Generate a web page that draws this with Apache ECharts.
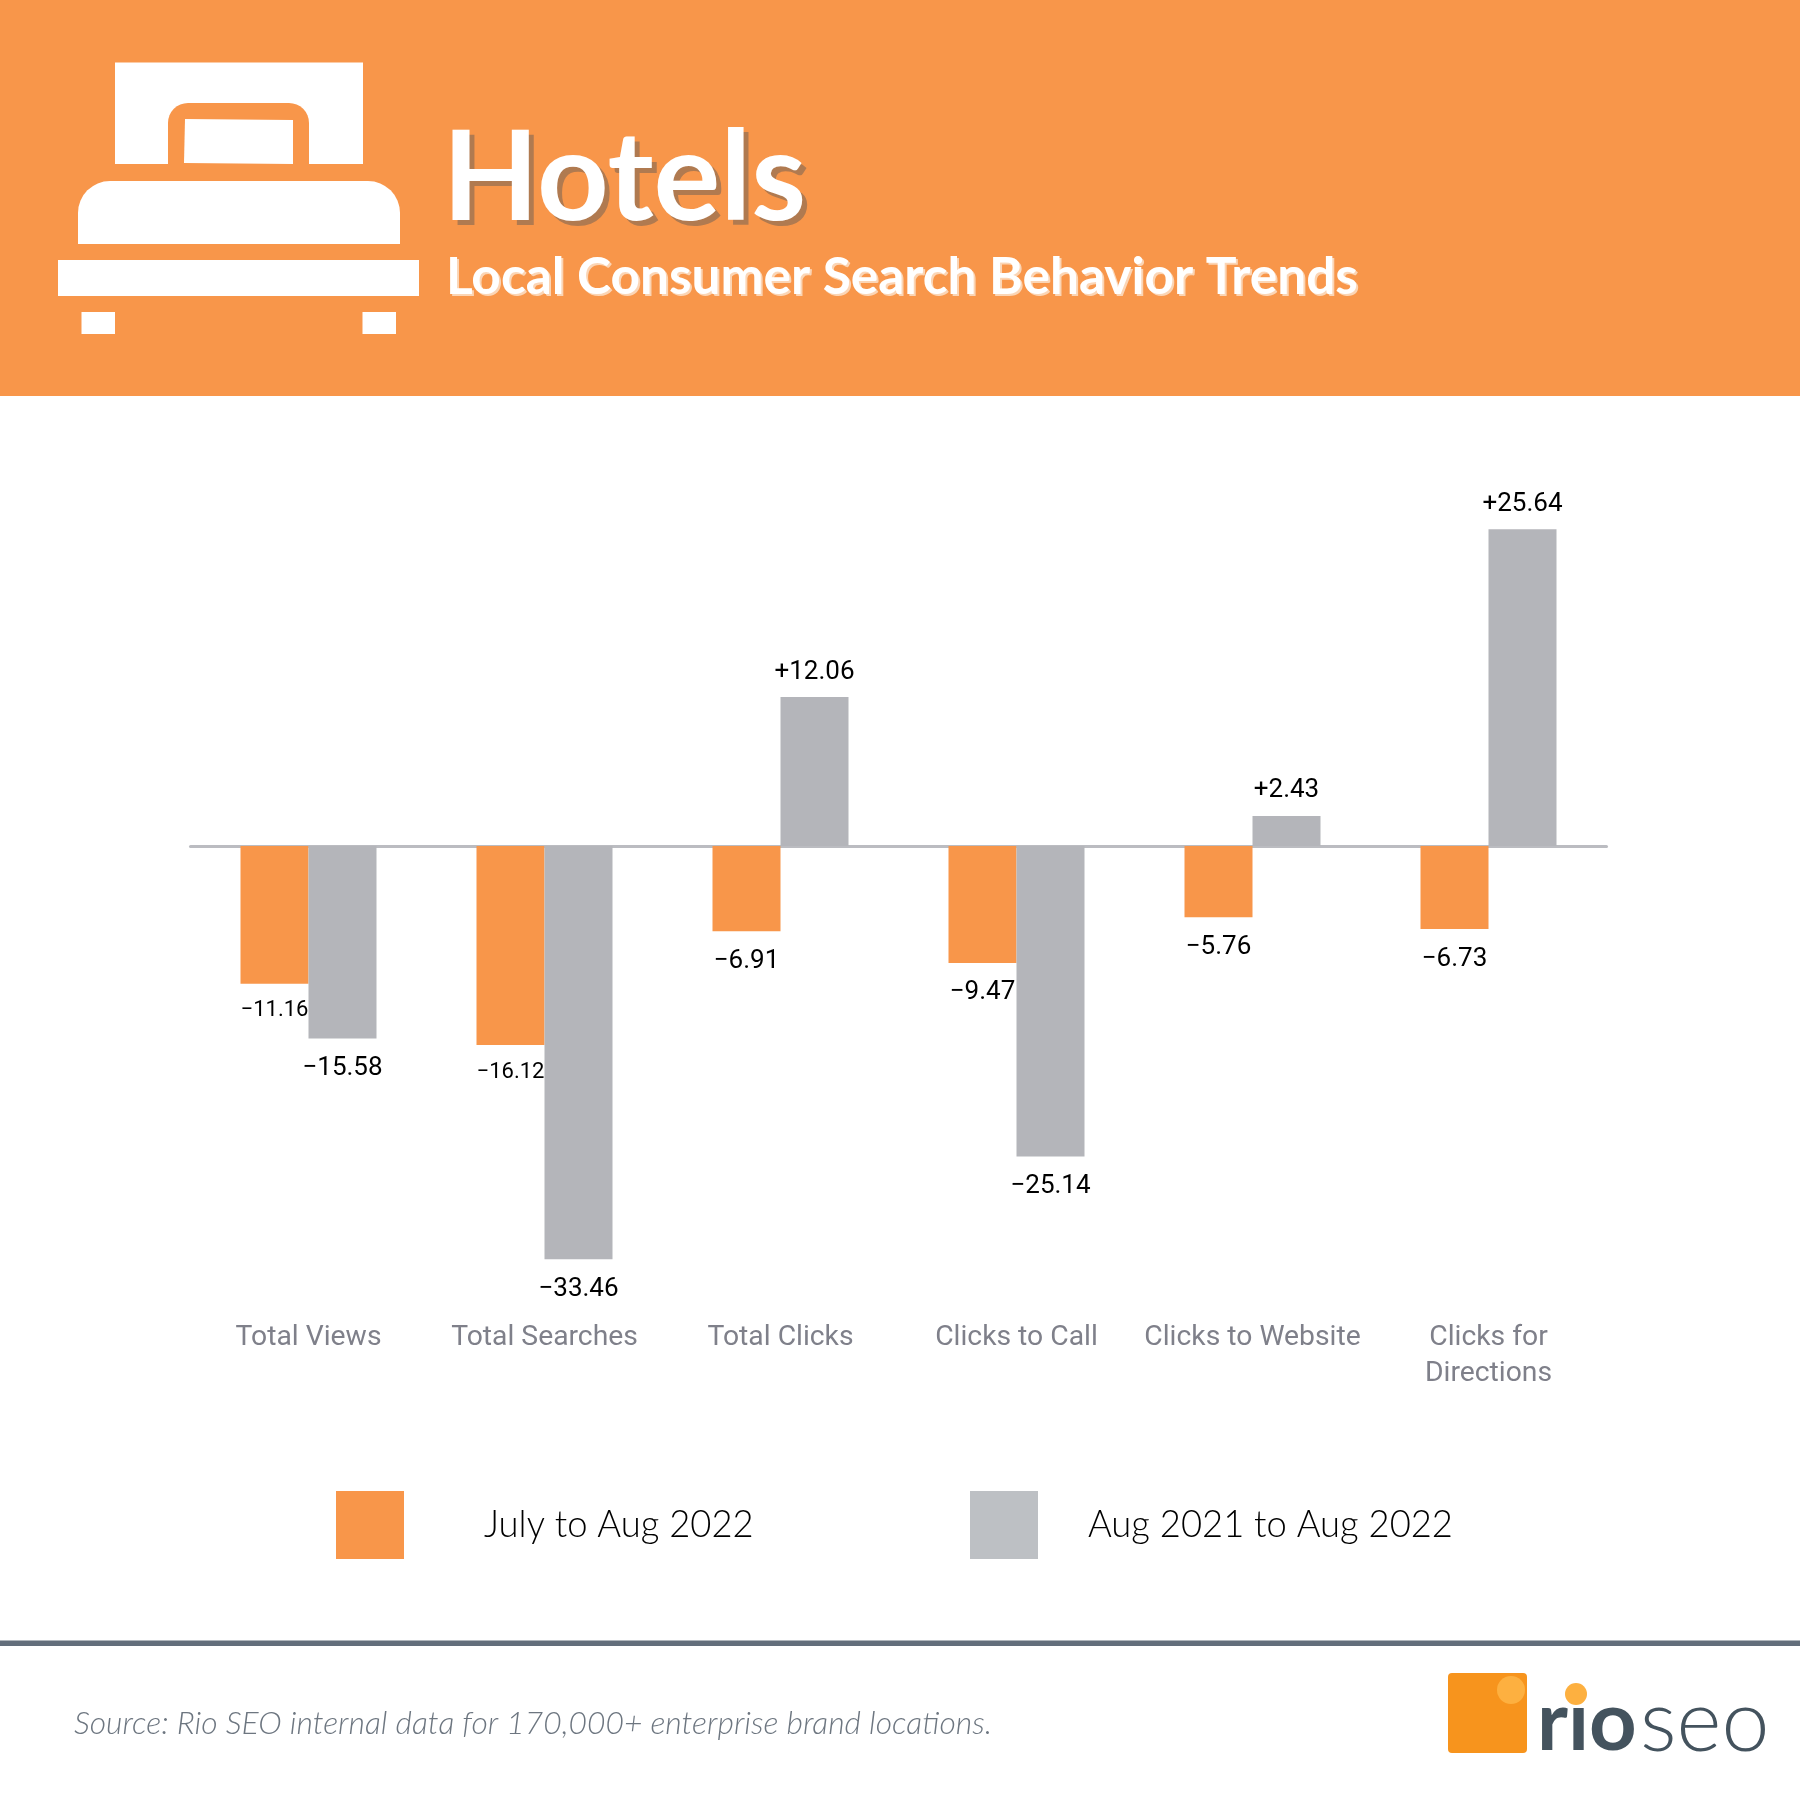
<!DOCTYPE html>
<html>
<head>
<meta charset="utf-8">
<title>Hotels</title>
<script src="https://cdn.jsdelivr.net/npm/echarts@6/dist/echarts.min.js"></script>
<style>
  html, body { margin: 0; padding: 0; background: #fff; }
  #main { width: 1800px; height: 1800px; }
</style>
</head>
<body>
<div id="main"></div>
<script>
var categories = ['Total Views', 'Total Searches', 'Total Clicks', 'Clicks to Call', 'Clicks to Website', 'Clicks for\nDirections'];
var monthly = [-11.16, -16.12, -6.91, -9.47, -5.76, -6.73];
var yearly = [-15.58, -33.46, 12.06, -25.14, 2.43, 25.64];
var seriesNames = ['July to Aug 2022', 'Aug 2021 to Aug 2022'];
var smallLabels = [-11.16, -16.12];

var ORANGE = '#f8964a', GREY = '#b4b5ba';

function signed(v) {
  return (v > 0 ? '+' : '\u2212') + Math.abs(v).toFixed(2);
}

function barData(values) {
  return values.map(function (v) {
    var small = smallLabels.indexOf(v) !== -1;
    return {
      value: v,
      label: {
        position: v < 0 ? 'bottom' : 'top',
        fontSize: small ? 22 : 26,
        distance: v > 0 ? 12 : (small ? 16 : 17)
      }
    };
  });
}

function barSeries(name, values, color) {
  return {
    name: name,
    type: 'bar',
    barWidth: 68,
    barGap: 0,
    itemStyle: { color: color },
    label: {
      show: true,
      color: '#000',
      fontFamily: 'Roboto',
      formatter: function (p) { return signed(p.value); }
    },
    data: barData(values)
  };
}

var chart = echarts.init(document.getElementById('main'));

chart.setOption({
  animation: false,
  backgroundColor: '#fff',
  title: [
    {
      text: 'Hotels', left: 437.5, top: 112,
      textStyle: {
        color: '#fff', fontFamily: 'Lato', fontWeight: 700, fontSize: 125,
        textShadowColor: '#b07a50', textShadowOffsetX: 5, textShadowOffsetY: 5, textShadowBlur: 0.1
      }
    },
    {
      text: 'Local Consumer Search Behavior Trends', left: 441, top: 247,
      textStyle: {
        color: '#fff', fontFamily: 'Lato', fontWeight: 700, fontSize: 51.4,
        textShadowColor: '#fbd5b5', textShadowOffsetX: 2, textShadowOffsetY: 2, textShadowBlur: 0.1
      }
    },
    {
      text: 'Source: Rio SEO internal data for 170,000+ enterprise brand locations.', left: 69, top: 1703,
      textStyle: {
        color: '#6d7680', fontFamily: 'Lato', fontWeight: 300, fontStyle: 'italic', fontSize: 31.85
      }
    }
  ],
  legend: [
    {
      left: 331, top: 1486, itemWidth: 68, itemHeight: 68, icon: 'rect',
      textStyle: { color: '#000', fontFamily: 'Lato', fontWeight: 300, fontSize: 36.4, padding: [0, 0, 12, 75] },
      data: [{ name: seriesNames[0], itemStyle: { color: ORANGE } }]
    },
    {
      left: 965, top: 1486, itemWidth: 68, itemHeight: 68, icon: 'rect',
      textStyle: { color: '#000', fontFamily: 'Lato', fontWeight: 300, fontSize: 36.4, padding: [0, 0, 12, 45] },
      data: [{ name: seriesNames[1], itemStyle: { color: '#bdc0c4' } }]
    }
  ],
  grid: { left: 190.5, width: 1416, top: 475.5, height: 839.8, outerBoundsMode: 'none' },
  xAxis: {
    type: 'category',
    data: categories,
    axisTick: { show: false },
    axisLine: { onZero: true, lineStyle: { color: '#bbbcc1', width: 3 } },
    axisLabel: {
      margin: 5, color: '#7f808a', fontFamily: 'Roboto', fontSize: 28.3, lineHeight: 36, interval: 0
    }
  },
  yAxis: { type: 'value', min: -38, max: 30, show: false, splitLine: { show: false } },
  series: [
    barSeries(seriesNames[0], monthly, ORANGE),
    barSeries(seriesNames[1], yearly, GREY)
  ],
  graphic: [
    // header band, drawn behind everything
    { type: 'rect', z: -10, shape: { x: 0, y: 0, width: 1800, height: 396 }, style: { fill: ORANGE } },
    // bed icon
    { type: 'rect', shape: { x: 115, y: 62.5, width: 248, height: 101.5 }, style: { fill: '#fff' } },
    { type: 'rect', shape: { x: 168, y: 103, width: 141, height: 70, r: [20, 20, 0, 0] }, style: { fill: ORANGE } },
    { type: 'polygon', shape: { points: [[185, 119], [293, 120], [293, 164], [184, 163]] }, style: { fill: '#fff' } },
    { type: 'rect', shape: { x: 78, y: 181, width: 322, height: 63, r: [32, 32, 0, 0] }, style: { fill: '#fff' } },
    { type: 'rect', shape: { x: 58, y: 260, width: 361, height: 36 }, style: { fill: '#fff' } },
    { type: 'rect', shape: { x: 81.5, y: 312, width: 33.5, height: 22 }, style: { fill: '#fff' } },
    { type: 'rect', shape: { x: 362.5, y: 312, width: 33.5, height: 22 }, style: { fill: '#fff' } },
    // footer rule
    { type: 'rect', shape: { x: 0, y: 1640.5, width: 1800, height: 5.5 }, style: { fill: '#636e7b' } },
    // logo
    { type: 'rect', shape: { x: 1448, y: 1673, width: 79, height: 80, r: 4 }, style: { fill: '#f7941d' } },
    { type: 'circle', shape: { cx: 1511, cy: 1690, r: 14 }, style: { fill: '#fdb040' } },
    { type: 'text', x: 1537, y: 1723, style: { text: 'rio', fill: '#44535e', font: '700 83px Lato', verticalAlign: 'middle' } },
    { type: 'circle', z: 5, shape: { cx: 1576, cy: 1694, r: 11 }, style: { fill: '#fdb040' } },
    { type: 'text', x: 1640, y: 1723, style: { text: 'seo', fill: '#44535e', font: '300 86px Lato', verticalAlign: 'middle' } }
  ]
});
</script>
</body>
</html>
